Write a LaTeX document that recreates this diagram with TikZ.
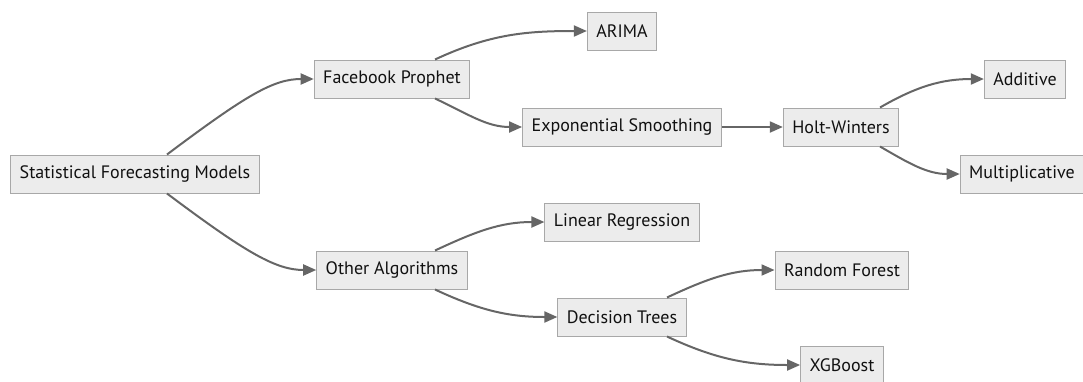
\documentclass[tikz,border=0pt]{standalone}
\usepackage{fontspec}
\setmainfont{PT Sans}
\usetikzlibrary{arrows.meta}

\definecolor{boxfill}{HTML}{ECECEC}
\definecolor{boxline}{HTML}{A8A8A8}
\definecolor{linkgray}{HTML}{666666}
\definecolor{txtdark}{HTML}{111111}

\begin{document}
\begin{tikzpicture}[x=1pt,y=-1pt,
  every node/.style={draw=boxline,line width=1pt,fill=boxfill,text=txtdark,
    font=\fontsize{18}{20}\selectfont,inner xsep=9pt,minimum height=38pt},
  link/.style={draw=linkgray,line width=2pt,-{Triangle[length=13pt,width=11pt]}}]
  \useasboundingbox (0,0) rectangle (1083,381);
  % nodes, left to right
  \node (stat) at (135,174) {Statistical Forecasting Models};
  \node (fb) at (392,79) {Facebook Prophet};
  \node (other) at (392,270) {Other Algorithms};
  \node (arima) at (622,31) {ARIMA};
  \node (expo) at (622,127) {Exponential Smoothing};
  \node (linreg) at (622,222) {Linear Regression};
  \node (dtree) at (622,317) {Decision Trees};
  \node (holt) at (841,127) {Holt-Winters};
  \node (rforest) at (842,270) {Random Forest};
  \node (xgb) at (842,365) {XGBoost};
  \node (add) at (1025,79) {Additive};
  \node (mult) at (1022,174) {Multiplicative};
  % links
  \draw[link] ([xshift=32pt]stat.north) .. controls +(80,-60) and +(-40,0) .. (fb.west);
  \draw[link] ([xshift=32pt]stat.south) .. controls +(80,60) and +(-40,0) .. (other.west);
  \draw[link] ([xshift=43pt]fb.north) to[out=25,in=180] (arima.west);
  \draw[link] ([xshift=43pt]fb.south) to[out=-25,in=180] (expo.west);
  \draw[link] (expo.east) -- (holt.west);
  \draw[link] ([xshift=39pt]holt.north) to[out=30,in=180] (add.west);
  \draw[link] ([xshift=39pt]holt.south) to[out=-30,in=180] (mult.west);
  \draw[link] ([xshift=43pt]other.north) to[out=25,in=180] (linreg.west);
  \draw[link] ([xshift=43pt]other.south) to[out=-25,in=180] (dtree.west);
  \draw[link] ([xshift=45pt]dtree.north) to[out=25,in=180] (rforest.west);
  \draw[link] ([xshift=45pt]dtree.south) to[out=-25,in=180] (xgb.west);
\end{tikzpicture}
\end{document}
